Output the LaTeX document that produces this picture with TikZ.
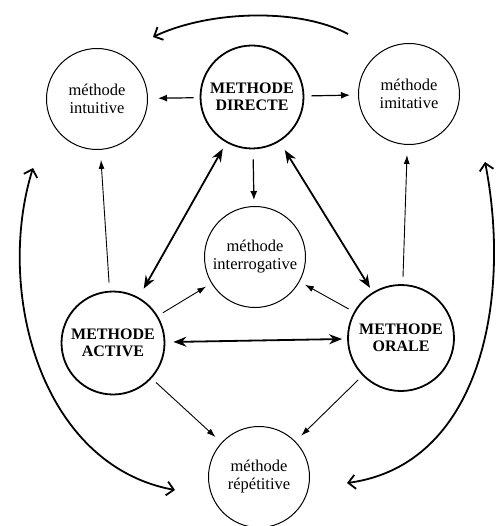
\documentclass[tikz,border=0pt]{standalone}
\usepackage{fontspec}
\setmainfont{Liberation Serif}
\usetikzlibrary{arrows.meta}
\tikzset{
  methode/.style={circle, draw, line width=1pt, minimum size=101pt, inner sep=0pt, align=center, font=\fontsize{16.5}{18}\selectfont},
  keymethode/.style={methode, line width=1.8pt, minimum size=103pt, font=\fontsize{16}{17}\selectfont\bfseries},
  fromdirect/.style={-{Latex[length=9pt,width=7pt]}, line width=1.2pt},
  minorarrow/.style={-{Latex[length=9pt,width=6pt]}, line width=0.9pt},
  majorarrow/.style={{Stealth[length=13pt,width=10pt]}-{Stealth[length=13pt,width=10pt]}, line width=1.8pt},
  sidecurve/.style={line width=1.8pt, {Straight Barb[length=7pt,width=14pt]}-{Straight Barb[length=7pt,width=14pt]}}
}
\begin{document}
\begin{tikzpicture}[x=1pt,y=-1pt]
    \useasboundingbox (0,0) rectangle (496,526);
    \node[methode] (intu) at (97,99) {méthode\\intuitive};
    \node[keymethode] (dir) at (252,97) {METHODE\\DIRECTE};
    \node[methode] (imit) at (409,94) {méthode\\imitative};
    \node[methode] (inter) at (255,257) {méthode\\interrogative};
    \node[keymethode] (act) at (113,343) {METHODE\\ACTIVE};
    \node[keymethode, minimum size=106pt] (oral) at (401,338) {METHODE\\ORALE};
    \node[methode] (rep) at (259,477) {méthode\\répétitive};
    \coordinate (tr) at (348,34);
    \coordinate (tl) at (153,37);
    \coordinate (lt) at (33,168);
    \coordinate (lb) at (175,490);
    \coordinate (rt) at (485,162);
    \coordinate (rb) at (347,483);
    \draw[fromdirect, shorten <=6pt, shorten >=10pt] (dir) -- (intu);
    \draw[fromdirect, shorten <=7pt, shorten >=8pt] (dir) -- (imit);
    \draw[fromdirect, shorten <=10pt, shorten >=6pt] (dir) -- (inter);
    \draw[majorarrow, shorten <=10pt, shorten >=7pt] (act) -- (dir);
    \draw[majorarrow, shorten <=5pt, shorten >=10pt] (oral) -- (dir);
    \draw[majorarrow, shorten <=8pt, shorten >=5pt] (act) -- (oral);
    \draw[minorarrow, shorten <=8pt, shorten >=10pt] (act) -- (intu);
    \draw[minorarrow, shorten <=7pt, shorten >=10pt] (oral) -- (imit);
    \draw[minorarrow, shorten <=6pt, shorten >=6pt] (act) -- (inter);
    \draw[minorarrow, shorten <=6pt, shorten >=6pt] (oral) -- (inter);
    \draw[minorarrow, shorten <=6pt, shorten >=8pt] (act) -- (rep);
    \draw[minorarrow, shorten <=6pt, shorten >=8pt] (oral) -- (rep);
    \draw[line width=1.8pt, -{Straight Barb[length=7pt,width=14pt]}] (tr) .. controls (300,8) and (210,10) .. (tl);
    \draw[sidecurve] (lt) .. controls (-5,290) and (40,465) .. (lb);
    \draw[sidecurve] (rt) .. controls (512,300) and (480,465) .. (rb);
\end{tikzpicture}
\end{document}
